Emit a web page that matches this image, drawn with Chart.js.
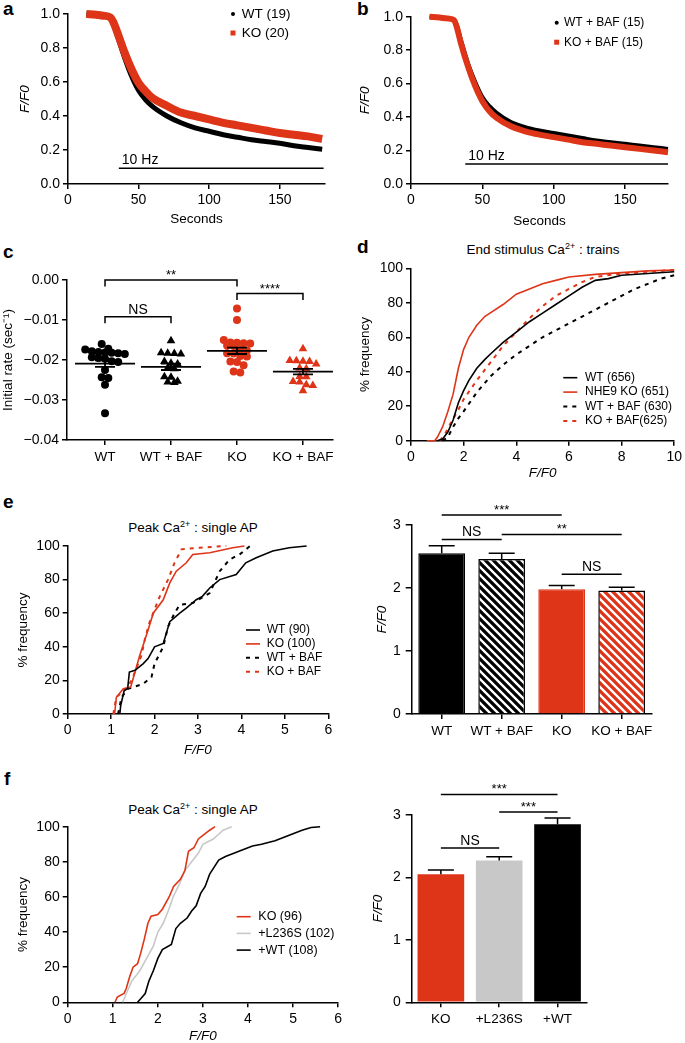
<!DOCTYPE html>
<html>
<head>
<meta charset="utf-8">
<script src="https://cdn.jsdelivr.net/npm/chart.js@4.4.0/dist/chart.umd.min.js"></script>
<style>
  body { margin: 0; background: #fff; width: 685px; height: 1043px; position: relative; overflow: hidden;
         font-family: "Liberation Sans", Arial, Helvetica, sans-serif; color: #000; }
  canvas { position: absolute; }
  .lbl { position: absolute; font-weight: bold; font-size: 19px; line-height: 19px; }
  .ttl { position: absolute; font-size: 13.5px; line-height: 16px; white-space: nowrap; transform: translateX(-50%); }
  .ttl sup { font-size: 9px; line-height: 0; vertical-align: 5px; }
</style>
</head>
<body>
<div class="lbl" style="left:3px;top:-1px">a</div>
<div class="lbl" style="left:357px;top:-1px">b</div>
<div class="lbl" style="left:3px;top:242px">c</div>
<div class="lbl" style="left:357px;top:237px">d</div>
<div class="lbl" style="left:3px;top:492px">e</div>
<div class="lbl" style="left:4px;top:769px">f</div>

<div class="ttl" style="left:543px;top:242px">End stimulus Ca<sup>2+</sup> : trains</div>
<div class="ttl" style="left:193px;top:520px">Peak Ca<sup>2+</sup> : single AP</div>
<div class="ttl" style="left:193px;top:802px">Peak Ca<sup>2+</sup> : single AP</div>

<canvas id="chA" width="345" height="232" style="left:0;top:0"></canvas>
<canvas id="chB" width="345" height="232" style="left:340px;top:0"></canvas>
<canvas id="chC" width="345" height="275" style="left:0;top:225px"></canvas>
<canvas id="chD" width="345" height="275" style="left:340px;top:225px"></canvas>
<canvas id="chE1" width="345" height="270" style="left:0;top:495px"></canvas>
<canvas id="chE2" width="345" height="270" style="left:340px;top:495px"></canvas>
<canvas id="chF1" width="345" height="283" style="left:0;top:760px"></canvas>
<canvas id="chF2" width="345" height="283" style="left:340px;top:760px"></canvas>

<script>
const FONT = '"Liberation Sans", Arial, Helvetica, sans-serif';
const RED = '#de3418';
const GREY = '#c8c8c8';

// ---------- data ----------
// a, b: F/F0 during 10 Hz train
const timeAB = [13, 20, 25, 30, 32, 35, 40, 45, 50, 55, 60, 70, 80, 90, 100, 110, 120, 130, 140, 150, 160, 170, 180];
const wtA = [1.0, 0.995, 0.99, 0.98, 0.95, 0.87, 0.745, 0.635, 0.55, 0.495, 0.455, 0.40, 0.36, 0.33, 0.31, 0.29, 0.275, 0.26, 0.25, 0.24, 0.225, 0.215, 0.205];
const koA = [1.0, 0.995, 0.99, 0.98, 0.955, 0.89, 0.775, 0.675, 0.595, 0.545, 0.505, 0.46, 0.42, 0.40, 0.38, 0.36, 0.345, 0.33, 0.315, 0.30, 0.29, 0.28, 0.265];
const wtBafB = [1.0, 0.995, 0.99, 0.98, 0.95, 0.86, 0.72, 0.61, 0.52, 0.465, 0.425, 0.37, 0.34, 0.32, 0.305, 0.29, 0.275, 0.26, 0.25, 0.24, 0.23, 0.22, 0.21];
const koBafB = [1.0, 0.995, 0.99, 0.98, 0.94, 0.84, 0.70, 0.585, 0.495, 0.435, 0.395, 0.345, 0.315, 0.295, 0.28, 0.265, 0.25, 0.24, 0.23, 0.22, 0.21, 0.20, 0.19];
const stimA = [36, 181], stimLevelA = 0.093;
const stimB = [38, 180], stimLevelB = 0.12;

// c: initial rate
const groupsC = ['WT', 'WT + BAF', 'KO', 'KO + BAF'];
const rateWT = [-0.0160, -0.0172, -0.0174, -0.0178, -0.0180, -0.0181, -0.0182, -0.0183, -0.0185, -0.0193, -0.0195, -0.0197, -0.0203, -0.0205, -0.0225, -0.0243, -0.0245, -0.0262, -0.0333];
const rateWTBAF = [-0.0152, -0.0182, -0.0183, -0.0184, -0.0185, -0.0204, -0.0208, -0.0210, -0.0220, -0.0222, -0.0242, -0.0243, -0.0253, -0.0255, -0.0256];
const rateKO = [-0.0071, -0.0100, -0.0150, -0.0156, -0.0157, -0.0158, -0.0159, -0.0164, -0.0165, -0.0175, -0.0176, -0.0183, -0.0184, -0.0190, -0.0191, -0.0204, -0.0205, -0.0213, -0.0229, -0.0231];
const rateKOBAF = [-0.0172, -0.0201, -0.0202, -0.0203, -0.0204, -0.0210, -0.0220, -0.0222, -0.0241, -0.0242, -0.0254, -0.0255, -0.0262, -0.0264, -0.0277];
const meanC = [-0.0209, -0.0217, -0.0177, -0.0229];
const semC = [0.0008, 0.0008, 0.0008, 0.0007];

// d: end stimulus cumulative (F/F0, %)
const cdfD_WT = [[1.0,0],[1.2,1],[1.4,5],[1.6,12],[1.8,22],[2.0,29],[2.2,35],[2.5,42],[2.8,47],[3.0,50],[3.5,57],[4.0,63],[4.5,69],[5.0,74],[5.5,79],[6.0,84],[6.5,89],[7.0,93],[7.5,94],[8.0,96],[9.0,97],[10,98]];
const cdfD_KO = [[0.6,0],[0.9,0],[1.0,2],[1.2,8],[1.4,17],[1.6,27],[1.8,42],[2.0,53],[2.2,60],[2.5,67],[2.8,72],[3.0,74],[3.5,79],[4.0,85],[4.5,88],[5.0,91],[5.5,93],[6.0,95],[7.0,96.5],[8.0,97.5],[9.0,98.5],[10,99]];
const cdfD_WTBAF = [[1.2,0],[1.4,2],[1.6,8],[1.8,13],[2.0,17],[2.5,28],[3.0,37],[3.5,44],[4.0,50],[4.5,55],[5.0,60],[5.5,64],[6.0,68],[6.5,72],[7.0,76],[7.5,80],[8.0,84],[8.5,88],[9.0,91],[9.5,94],[10,96]];
const cdfD_KOBAF = [[1.1,0],[1.3,4],[1.5,10],[1.8,18],[2.0,24],[2.5,35],[3.0,45],[3.5,55],[4.0,63],[4.5,71],[5.0,78],[5.5,84],[6.0,88],[6.5,92],[7.0,95],[8.0,97],[9.0,98],[10,99]];

// e: peak single AP cumulative
const cdfE_WT = [[1.2,0],[1.22,5],[1.3,14],[1.38,15],[1.42,25],[1.55,26],[1.74,30],[1.85,33],[2.0,40],[2.2,42],[2.27,48],[2.35,55],[2.58,60],[2.73,63],[2.96,68],[3.1,70],[3.27,75],[3.5,80],[3.88,83],[4.1,90],[4.34,93],[4.72,97],[5.1,99],[5.5,100]];
const cdfE_KO = [[1.08,0],[1.12,10],[1.28,15],[1.45,16],[1.55,25],[1.66,35],[1.75,42],[1.85,50],[1.97,60],[2.2,68],[2.35,78],[2.5,85],[2.73,90],[2.88,95],[3.27,96],[3.8,99],[4.07,100]];
const cdfE_WTBAF = [[1.16,0],[1.24,10],[1.39,15],[1.74,18],[1.93,22],[2.0,30],[2.2,40],[2.31,52],[2.46,60],[2.58,65],[2.88,66],[3.27,72],[3.34,76],[3.5,85],[3.73,92],[3.96,95],[4.2,100]];
const cdfE_KOBAF = [[1.05,0],[1.12,10],[1.35,15],[1.47,20],[1.7,35],[1.78,45],[1.89,55],[2.12,70],[2.31,80],[2.46,90],[2.62,98],[3.04,99],[3.65,100]];
const groupsE = ['WT', 'WT + BAF', 'KO', 'KO + BAF'];
const peakE = [2.55, 2.46, 1.98, 1.96];
const semE = [0.12, 0.09, 0.06, 0.05];

// f: rescue
const cdfF_KO = [[1.05,0],[1.1,3],[1.25,5],[1.3,8],[1.38,15],[1.45,20],[1.55,22],[1.62,28],[1.7,36],[1.78,45],[1.85,49],[2.0,50],[2.1,53],[2.25,60],[2.35,66],[2.5,70],[2.6,75],[2.68,86],[2.8,88],[2.9,93],[3.05,96],[3.15,98],[3.27,100]];
const cdfF_L236S = [[1.22,0],[1.3,5],[1.42,12],[1.6,18],[1.75,25],[1.9,32],[2.0,40],[2.12,45],[2.23,52],[2.34,60],[2.49,68],[2.6,75],[2.75,80],[2.9,85],[3.0,90],[3.23,93],[3.45,98],[3.64,100]];
const cdfF_WT = [[1.55,0],[1.62,2],[1.72,5],[1.8,12],[1.9,18],[2.0,25],[2.1,30],[2.3,33],[2.4,42],[2.5,45],[2.65,48],[2.75,52],[2.85,55],[2.95,62],[3.05,66],[3.15,73],[3.25,77],[3.35,81],[3.5,83],[3.7,85],[3.9,87],[4.1,89],[4.3,90],[4.6,92],[4.8,94],[5.0,96],[5.2,98],[5.4,99.5],[5.6,100]];
const groupsF = ['KO', '+L236S', '+WT'];
const peakF = [2.05, 2.27, 2.85];
const semF = [0.07, 0.06, 0.10];

// significance marks: [from, to, level, text]
const sigC = [[1, 3, 0.0, '**'], [3, 4, -0.0034, '****'], [1, 2, -0.0092, 'NS']];
const sigE = [[0, 2, 3.16, '***'], [0, 1, 2.77, 'NS'], [1, 3, 2.85, '**'], [2, 3, 2.22, 'NS']];
const sigF = [[0, 2, 3.33, '***'], [1, 2, 3.05, '***'], [0, 1, 2.47, 'NS']];

// ---------- helpers ----------
function pairs(xs, ys) { return xs.map((x, i) => ({ x: x, y: ys[i] })); }
function pts(arr) { return arr.map(p => ({ x: p[0], y: p[1] })); }

// spread points of one group sideways, rows of similar value (beeswarm)
function swarm(vals, center, tol, step) {
  const sorted = vals.slice().sort((p, q) => q - p);
  const rows = [];
  sorted.forEach(v => {
    const r = rows[rows.length - 1];
    if (r && r[0] - v <= tol) r.push(v); else rows.push([v]);
  });
  const out = [];
  rows.forEach(r => r.forEach((v, i) => out.push({ x: center + (i - (r.length - 1) / 2) * step, y: v })));
  return out;
}

function stripes(fg) {
  const c = document.createElement('canvas');
  c.width = c.height = 8;
  const g = c.getContext('2d');
  g.fillStyle = '#fff';
  g.fillRect(0, 0, 8, 8);
  g.strokeStyle = fg;
  g.lineWidth = 3.3;
  g.beginPath();
  [-8, 0, 8].forEach(o => { g.moveTo(o - 1, -1); g.lineTo(o + 9, 9); });
  g.stroke();
  return g.createPattern(c, 'repeat');
}

function axisTitle(text, italic, pad) {
  return { display: !!text, text: text, color: '#000', padding: pad,
           font: { family: FONT, size: 13.5, style: italic ? 'italic' : 'normal', lineHeight: 1 } };
}

function yAxis(o) {
  return {
    type: 'linear', position: 'left', min: o.min, max: o.max,
    afterFit: s => { s.width = o.w; },
    border: { color: '#000', width: 1.5 },
    grid: { drawOnChartArea: false, color: '#000', lineWidth: 1.5, tickLength: o.tl || 5 },
    ticks: { color: '#000', font: { family: FONT, size: 14 }, padding: o.pad || 3, stepSize: o.step,
             includeBounds: false, callback: o.fmt },
    title: axisTitle(o.title, o.italic, { top: o.tp, bottom: 0 })
  };
}

function xAxis(o) {
  return {
    type: o.cat ? 'category' : 'linear', position: 'bottom', min: o.min, max: o.max,
    offset: !!o.cat,
    afterFit: s => { s.height = o.h; },
    afterBuildTicks: o.at ? s => { s.ticks = o.at.map(v => ({ value: v })); } : undefined,
    border: { color: '#000', width: 1.5 },
    grid: { drawOnChartArea: false, offset: false, color: '#000', lineWidth: 1.5, tickLength: o.tl || 5 },
    ticks: { color: '#000', font: { family: FONT, size: o.fs || 14 }, padding: o.pad || 3, stepSize: o.step,
             includeBounds: false, maxRotation: 0, autoSkip: false, callback: o.fmt },
    title: axisTitle(o.title, o.italic, { top: 0, bottom: o.tb || 0 })
  };
}

function baseOptions(pad, y, x, deco) {
  return {
    responsive: false, animation: false, events: [],
    layout: { padding: { top: pad[0], right: pad[1], bottom: 0, left: 0 } },
    scales: { x: x, y: y },
    plugins: { legend: { display: false }, tooltip: { enabled: false }, deco: deco }
  };
}

function lineSet(label, data, color, width, dash, style) {
  return { label: label, data: data, borderColor: color, backgroundColor: color, borderWidth: width,
           borderDash: dash || [], pointRadius: 0, pointStyle: style || 'line', tension: 0,
           fill: false, clip: false };
}

// decorations: stimulus bar, mean/SEM, error bars, significance marks, legend
const deco = {
  id: 'deco',
  afterDraw(chart, args, o) {
    const ctx = chart.ctx, xs = chart.scales.x, ys = chart.scales.y;
    ctx.save();
    ctx.strokeStyle = '#000';
    ctx.fillStyle = '#000';
    ctx.lineWidth = 1.5;
    ctx.setLineDash([]);

    if (o.stim) {
      const y = ys.getPixelForValue(o.stim.level);
      const x0 = xs.getPixelForValue(o.stim.range[0]);
      ctx.beginPath();
      ctx.moveTo(x0, y);
      ctx.lineTo(xs.getPixelForValue(o.stim.range[1]), y);
      ctx.stroke();
      ctx.font = '14px ' + FONT;
      ctx.textBaseline = 'alphabetic';
      ctx.fillText(o.stim.text, x0 + 3, y - 4);
    }

    if (o.means) {
      ctx.lineWidth = 1.8;
      o.means.forEach((m, i) => {
        const cx = xs.getPixelForValue(i + 1), y = ys.getPixelForValue(m);
        const yt = ys.getPixelForValue(m + o.sems[i]), yb = ys.getPixelForValue(m - o.sems[i]);
        ctx.beginPath();
        ctx.moveTo(cx - 30, y); ctx.lineTo(cx + 30, y);
        ctx.moveTo(cx, yt); ctx.lineTo(cx, yb);
        ctx.moveTo(cx - 10, yt); ctx.lineTo(cx + 10, yt);
        ctx.moveTo(cx - 10, yb); ctx.lineTo(cx + 10, yb);
        ctx.stroke();
      });
    }

    if (o.err) {
      ctx.lineWidth = 1.5;
      const meta = chart.getDatasetMeta(0);
      o.err.forEach((e, i) => {
        const bar = meta.data[i];
        const top = ys.getPixelForValue(chart.data.datasets[0].data[i] + e);
        ctx.beginPath();
        ctx.moveTo(bar.x, bar.y); ctx.lineTo(bar.x, top);
        ctx.moveTo(bar.x - 13, top); ctx.lineTo(bar.x + 13, top);
        ctx.stroke();
      });
    }

    if (o.sig) {
      ctx.lineWidth = 1.5;
      ctx.textAlign = 'center';
      ctx.textBaseline = 'alphabetic';
      o.sig.forEach(s => {
        const x0 = xs.getPixelForValue(s[0]), x1 = xs.getPixelForValue(s[1]);
        const y = ys.getPixelForValue(s[2]);
        ctx.beginPath();
        if (o.legs) {
          ctx.moveTo(x0, y + o.legs); ctx.lineTo(x0, y); ctx.lineTo(x1, y); ctx.lineTo(x1, y + o.legs);
        } else {
          ctx.moveTo(x0, y); ctx.lineTo(x1, y);
        }
        ctx.stroke();
        ctx.font = (s[3] === 'NS' ? '14px ' : '13px ') + FONT;
        ctx.fillText(s[3], (x0 + x1) / 2, y - (s[3] === 'NS' ? 3 : 1));
      });
    }

    if (o.legend) {
      const L = o.legend;
      ctx.font = L.size + 'px ' + FONT;
      ctx.textAlign = 'left';
      ctx.textBaseline = 'middle';
      chart.data.datasets.forEach((ds, i) => {
        const y = L.y + i * L.row;
        ctx.strokeStyle = ds.borderColor;
        ctx.fillStyle = ds.borderColor;
        if (ds.pointStyle === 'circle') {
          ctx.beginPath(); ctx.arc(L.x, y, 2, 0, Math.PI * 2); ctx.fill();
        } else if (ds.pointStyle === 'rect') {
          ctx.fillRect(L.x - 2.5, y - 2.5, 5, 5);
        } else {
          ctx.lineWidth = ds.borderDash.length ? 2 : 1.6;
          ctx.setLineDash(ds.borderDash);
          ctx.beginPath(); ctx.moveTo(L.x, y); ctx.lineTo(L.x2, y); ctx.stroke();
          ctx.setLineDash([]);
        }
        ctx.fillStyle = '#000';
        ctx.fillText(ds.label, L.tx, y);
      });
    }
    ctx.restore();
  }
};
Chart.register(deco);

const one = v => v.toFixed(1);
const plain = v => String(v);
const minus = v => Math.abs(v) < 1e-9 ? '0.00' : '\u2212' + Math.abs(v).toFixed(2);
const smooth = ds => Object.assign(ds, { cubicInterpolationMode: 'monotone' });

// ---------- a ----------
new Chart(document.getElementById('chA'), {
  type: 'line',
  data: { datasets: [
    Object.assign(smooth(lineSet('WT (19)', pairs(timeAB, wtA), '#000', 5, null, 'circle')), { order: 1 }),
    Object.assign(smooth(lineSet('KO (20)', pairs(timeAB, koA), RED, 8, null, 'rect')), { order: 0 })
  ] },
  options: baseOptions([14, 20],
    yAxis({ min: 0, max: 1, step: 0.2, w: 68, tp: 18.5, title: 'F/F0', italic: true, fmt: one }),
    xAxis({ min: 0, max: 182, step: 50, h: 48, tb: 5.5, title: 'Seconds', fmt: plain }),
    { stim: { range: stimA, level: stimLevelA, text: '10 Hz' },
      legend: { x: 233, tx: 241.7, y: 14, row: 19, size: 13.5 } })
});

// ---------- b ----------
new Chart(document.getElementById('chB'), {
  type: 'line',
  data: { datasets: [
    Object.assign(smooth(lineSet('WT + BAF (15)', pairs(timeAB, wtBafB), '#000', 4, null, 'circle')), { order: 1 }),
    Object.assign(smooth(lineSet('KO + BAF (15)', pairs(timeAB, koBafB), RED, 6, null, 'rect')), { order: 0 })
  ] },
  options: baseOptions([16.7, 17],
    yAxis({ min: 0, max: 1, step: 0.2, w: 71, tp: 18.5, title: 'F/F0', italic: true, fmt: one }),
    xAxis({ min: 0, max: 180, step: 50, h: 48, tb: 3.8, title: 'Seconds', fmt: plain }),
    { stim: { range: stimB, level: stimLevelB, text: '10 Hz' },
      legend: { x: 216.7, tx: 224, y: 22.7, row: 19.5, size: 12 } })
});

// ---------- c ----------
const dot = (label, vals, i, color, style, r) => ({
  label: label, data: swarm(vals, i + 1, 0.0012, 0.1), pointStyle: style, pointRadius: r,
  backgroundColor: color, borderColor: color, borderWidth: 0, clip: false
});
new Chart(document.getElementById('chC'), {
  type: 'scatter',
  data: { datasets: [
    dot(groupsC[0], rateWT, 0, '#000', 'circle', 4),
    dot(groupsC[1], rateWTBAF, 1, '#000', 'triangle', 5),
    dot(groupsC[2], rateKO, 2, RED, 'circle', 4),
    dot(groupsC[3], rateKOBAF, 3, RED, 'triangle', 5)
  ] },
  options: baseOptions([55, 12],
    yAxis({ min: -0.04, max: 0, step: 0.01, w: 67, tp: 2, title: 'Initial rate (sec\u207B\u00B9)', fmt: minus }),
    xAxis({ min: 0.424, max: 4.455, h: 60, fs: 13.5, pad: 4, at: [1, 2, 3, 4], fmt: v => groupsC[v - 1] }),
    { means: meanC, sems: semC, sig: sigC, legs: 6.5 })
});

// ---------- d ----------
new Chart(document.getElementById('chD'), {
  type: 'line',
  data: { datasets: [
    lineSet('WT (656)', pts(cdfD_WT), '#000', 1.6),
    lineSet('NHE9 KO (651)', pts(cdfD_KO), RED, 1.6),
    lineSet('WT + BAF (630)', pts(cdfD_WTBAF), '#000', 2, [4, 5]),
    lineSet('KO + BAF(625)', pts(cdfD_KOBAF), RED, 2, [4, 5])
  ] },
  options: baseOptions([43.3, 8],
    yAxis({ min: 0, max: 100, step: 20, w: 71, tp: 18.5, title: '% frequency', fmt: plain }),
    xAxis({ min: 0, max: 10, step: 2, h: 59.3, tb: 20.5, title: 'F/F0', italic: true, fmt: plain }),
    { legend: { x: 223.3, x2: 237.3, tx: 245, y: 152.7, row: 14.4, size: 12 } })
});

// ---------- e (left) ----------
new Chart(document.getElementById('chE1'), {
  type: 'line',
  data: { datasets: [
    lineSet('WT (90)', pts(cdfE_WT), '#000', 1.6),
    lineSet('KO (100)', pts(cdfE_KO), RED, 1.6),
    lineSet('WT + BAF', pts(cdfE_WTBAF), '#000', 2, [4, 5]),
    lineSet('KO + BAF', pts(cdfE_KOBAF), RED, 2, [4, 5])
  ] },
  options: baseOptions([51, 16.7],
    yAxis({ min: 0, max: 100, step: 20, w: 67.7, tp: 16.5, title: '% frequency', fmt: plain }),
    xAxis({ min: 0, max: 6, step: 1, h: 51, tb: 8.5, title: 'F/F0', italic: true, fmt: plain }),
    { legend: { x: 246, x2: 260, tx: 266.7, y: 135, row: 13.9, size: 12 } })
});

// ---------- e (right) ----------
new Chart(document.getElementById('chE2'), {
  type: 'bar',
  data: { labels: groupsE, datasets: [{
    data: peakE,
    backgroundColor: ['#000', stripes('#000'), RED, stripes(RED)],
    borderColor: ['#000', '#000', RED, '#000'],
    borderWidth: 1.5, barPercentage: 0.78, categoryPercentage: 1
  }] },
  options: baseOptions([30, 33.3],
    yAxis({ min: 0, max: 3, step: 1, w: 71.7, tl: 6, pad: 5, tp: 35.5, title: 'F/F0', italic: true, fmt: plain }),
    xAxis({ cat: true, h: 51, fs: 13.5, pad: 4, fmt: function (v) { return this.getLabelForValue(v); } }),
    { err: semE, sig: sigE })
});

// ---------- f (left) ----------
new Chart(document.getElementById('chF1'), {
  type: 'line',
  data: { datasets: [
    lineSet('KO (96)', pts(cdfF_KO), RED, 1.6),
    lineSet('+L236S (102)', pts(cdfF_L236S), GREY, 1.6),
    lineSet('+WT (108)', pts(cdfF_WT), '#000', 1.6)
  ] },
  options: baseOptions([66.7, 6],
    yAxis({ min: 0, max: 100, step: 20, w: 67.7, tp: 16.5, title: '% frequency', fmt: plain }),
    xAxis({ min: 0, max: 6, step: 1, h: 40.7, tb: 0, title: 'F/F0', italic: true, fmt: plain }),
    { legend: { x: 236.7, x2: 250.7, tx: 258.3, y: 156.7, row: 16.7, size: 12.5 } })
});

// ---------- f (right) ----------
new Chart(document.getElementById('chF2'), {
  type: 'bar',
  data: { labels: groupsF, datasets: [{
    data: peakF,
    backgroundColor: [RED, GREY, '#000'],
    borderWidth: 0, barPercentage: 0.8, categoryPercentage: 1
  }] },
  options: baseOptions([55, 98.3],
    yAxis({ min: 0, max: 3, step: 1, w: 71.7, tl: 6, pad: 5, tp: 31.5, title: 'F/F0', italic: true, fmt: plain }),
    xAxis({ cat: true, h: 40.7, fs: 13.5, pad: 4, fmt: function (v) { return this.getLabelForValue(v); } }),
    { err: semF, sig: sigF })
});
</script>
</body>
</html>
